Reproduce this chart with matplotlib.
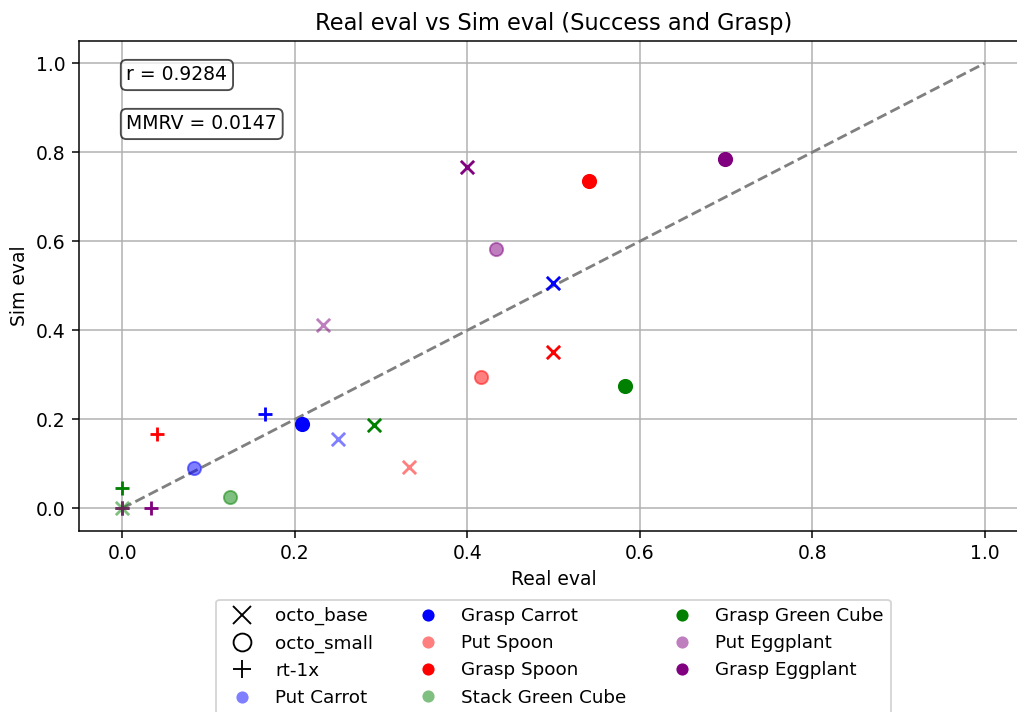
import matplotlib
matplotlib.use("Agg")
import matplotlib.pyplot as plt
from matplotlib.lines import Line2D

tasks = ["Put Carrot", "Grasp Carrot", "Put Spoon", "Grasp Spoon",
         "Stack Green Cube", "Grasp Green Cube", "Put Eggplant", "Grasp Eggplant"]
task_colors = ["blue", "blue", "red", "red", "green", "green", "purple", "purple"]
task_alphas = [0.5, 1.0, 0.5, 1.0, 0.5, 1.0, 0.5, 1.0]

models = ["octo_base", "octo_small", "rt-1x"]
model_markers = ["x", "o", "+"]

# real / sim evaluations per model, ordered as tasks
real_octo_base = [0.250, 0.500, 0.333, 0.500, 0.000, 0.292, 0.233, 0.400]
sim_octo_base = [0.155, 0.507, 0.094, 0.351, 0.000, 0.187, 0.412, 0.766]
real_octo_small = [0.083, 0.209, 0.416, 0.541, 0.125, 0.583, 0.433, 0.699]
sim_octo_small = [0.092, 0.189, 0.295, 0.736, 0.025, 0.275, 0.583, 0.786]
real_rt1x = [0.000, 0.166, 0.000, 0.041, 0.000, 0.000, 0.000, 0.033]
sim_rt1x = [0.000, 0.212, 0.000, 0.167, 0.000, 0.045, 0.000, 0.000]

r_value = 0.9284
mmrv_value = 0.0147

real_all = [real_octo_base, real_octo_small, real_rt1x]
sim_all = [sim_octo_base, sim_octo_small, sim_rt1x]

DPI = 135
fig = plt.figure(figsize=(1018 / DPI, 712 / DPI), dpi=DPI)
ax = fig.add_axes([0.0776, 0.2546, 0.932, 0.6878])

for mi, marker in enumerate(model_markers):
    lw = 1.0 if marker == "o" else 1.5
    for ti in range(len(tasks)):
        ax.scatter(real_all[mi][ti], sim_all[mi][ti], marker=marker, s=50,
                   color=task_colors[ti], alpha=task_alphas[ti], linewidths=lw, zorder=3)

ax.plot([0, 1], [0, 1], linestyle="--", color="gray", linewidth=1.5, zorder=2)
ax.set_xlim(-0.05, 1.05)
ax.set_ylim(-0.05, 1.05)
ax.grid(True)
ax.set_axisbelow(True)
ax.set_xlabel("Real eval")
ax.set_ylabel("Sim eval")
ax.set_title("Real eval vs Sim eval (Success and Grasp)", fontsize=12)

bbox = dict(boxstyle="round", facecolor="white", edgecolor="black", alpha=0.7)
ax.text(0.05, 0.95, f"r = {r_value:.4f}", transform=ax.transAxes, va="top", fontsize=10, bbox=bbox)
ax.text(0.05, 0.85, f"MMRV = {mmrv_value:.4f}", transform=ax.transAxes, va="top", fontsize=10, bbox=bbox)

handles = []
for m, mk in zip(models, model_markers):
    handles.append(Line2D([], [], marker=mk, color="black", linestyle="None",
                          markersize=9.5, markerfacecolor="none", markeredgewidth=1.0, label=m))
for t, c, a in zip(tasks, task_colors, task_alphas):
    handles.append(Line2D([], [], marker="o", color=c, alpha=a, linestyle="None",
                          markersize=6.5, markeredgewidth=0, label=t))
ax.legend(handles=handles, loc="upper center", bbox_to_anchor=(0.5, -0.122), ncol=3, fontsize=9.8)

fig.savefig("out.png", dpi=DPI)
